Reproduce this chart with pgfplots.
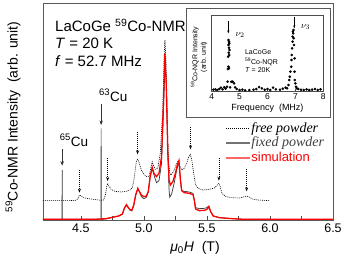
\documentclass[border=0pt]{standalone}
\usepackage{pgfplots}
\pgfplotsset{compat=1.18}
\usepackage{fontspec}
\setmainfont{Liberation Sans}
\newfontfamily\tnr{Liberation Serif}
\usetikzlibrary{arrows.meta}
\begin{document}
\begin{tikzpicture}
\useasboundingbox (-43pt,-45pt) rectangle (303pt,220pt);
\begin{axis}[at={(0pt,0pt)}, anchor=south west, scale only axis,
  width=290pt, height=217pt,
  xmin=4.2, xmax=6.5, ymin=0, ymax=651,
  ytick=\empty,
  xtick={4.5,5,5.5,6,6.5}, xticklabels={4.5,5.0,5.5,6.0,6.5},
  minor xtick={4.75,5.25,5.75,6.25},
  xtick pos=lower, tick align=inside,
  major tick length=4pt, minor tick length=4pt,
  tick style={black!70, line width=0.6pt},
  axis line style={black!65, line width=0.6pt},
  xticklabel style={font=\fontsize{12.5}{14}\selectfont},
  legend cell align=left,
  legend style={at={(0.617,0.463)}, anchor=north west, draw=none, fill=none,
    nodes={inner sep=0.5pt, text height=10pt, text depth=3pt}, row sep=0.5pt},
  legend image code/.code={\draw[#1] (0pt,0pt) -- (24pt,0pt);},
]
\addlegendimage{black, dash pattern=on 1pt off 1pt, line width=0.6pt}
\addlegendentry{\fontsize{14}{16}\selectfont\tnr\itshape free powder}
\addlegendimage{black!55, line width=1.8pt}
\addlegendentry{\fontsize{14}{16}\selectfont\tnr\itshape\color{black!75}fixed powder}
\addlegendimage{red!60, line width=1.8pt}
\addlegendentry{\fontsize{13}{16}\selectfont\color{red}simulation}
% free powder
\addplot[forget plot, black, dash pattern=on 1pt off 1pt, line width=0.6pt] coordinates {
(4.20,58) (4.40,58) (4.46,59) (4.475,63) (4.485,72) (4.49,75) (4.50,72) (4.52,67)
(4.56,64) (4.62,61) (4.66,59) (4.68,60) (4.695,75) (4.705,100) (4.713,110) (4.72,104)
(4.74,92) (4.77,86) (4.82,84) (4.86,86) (4.89,90) (4.91,98) (4.925,130) (4.94,175)
(4.95,182) (4.96,175) (4.98,150) (5.00,138) (5.02,130) (5.04,130) (5.055,155) (5.066,175)
(5.075,165) (5.09,152) (5.11,155) (5.13,200) (5.15,330) (5.16,480) (5.167,540) (5.175,480)
(5.185,300) (5.195,180) (5.205,140) (5.215,135) (5.235,145) (5.255,165) (5.268,175) (5.28,165)
(5.30,150) (5.32,155) (5.34,170) (5.355,190) (5.368,197) (5.38,180) (5.395,140) (5.41,105)
(5.43,95) (5.47,90) (5.52,92) (5.56,96) (5.58,104) (5.595,110) (5.605,100) (5.62,80)
(5.65,70) (5.70,67) (5.76,66) (5.80,70) (5.815,72) (5.83,70) (5.86,63) (5.90,60) (6.00,58)
};
% fixed powder
\addplot[forget plot, black!80, line width=0.7pt] coordinates {
(4.20,2) (4.351,2) (4.352,150) (4.353,2) (4.660,2) (4.661,275) (4.662,2)
(4.70,3) (4.75,8) (4.80,12) (4.83,18) (4.845,35) (4.862,45) (4.875,38) (4.89,30)
(4.905,27) (4.92,45) (4.935,75) (4.952,93) (4.965,85) (4.98,70) (5.00,64) (5.02,68)
(5.035,85) (5.05,130) (5.066,155) (5.08,135) (5.10,112) (5.12,118) (5.14,170) (5.155,320)
(5.168,470) (5.178,420) (5.19,200) (5.20,90) (5.205,68) (5.22,78) (5.24,110) (5.26,150)
(5.278,175) (5.29,120) (5.30,88) (5.32,86) (5.36,84) (5.39,80) (5.40,60) (5.41,37)
(5.44,34) (5.48,35) (5.50,37) (5.515,42) (5.53,25) (5.55,12) (5.60,7) (5.70,4)
(5.80,2) (6.00,2)
};
% simulation
\addplot[forget plot, red, line width=1.3pt] coordinates {
(4.20,2) (4.60,2) (4.70,4) (4.75,8) (4.80,12) (4.83,18) (4.845,35) (4.862,46)
(4.875,38) (4.89,31) (4.905,30) (4.92,45) (4.935,75) (4.952,95) (4.965,85) (4.98,75)
(5.00,70) (5.02,72) (5.035,85) (5.05,130) (5.066,158) (5.08,140) (5.10,130) (5.12,140)
(5.14,190) (5.155,350) (5.167,500) (5.178,400) (5.19,200) (5.20,120) (5.21,105) (5.23,115)
(5.25,140) (5.265,165) (5.278,178) (5.29,120) (5.30,88) (5.32,82) (5.36,80) (5.39,76)
(5.40,60) (5.41,33) (5.44,28) (5.48,29) (5.50,32) (5.515,40) (5.53,25) (5.55,12)
(5.60,7) (5.70,4) (5.80,2) (6.50,2)
};
% dotted arrows
\foreach \xx/\ya/\yb in {4.489/150/82, 4.713/185/117, 4.95/265/197, 5.37/280/212, 5.595/185/118, 5.815/152/86}{
  \edef\tmp{\noexpand\draw[black, dash pattern=on 1pt off 1pt, line width=0.6pt, -{Stealth[length=4pt,width=3pt]}] (axis cs:\xx,\ya) -- (axis cs:\xx,\yb);}
  \tmp
}
% Cu arrows
\draw[black!80, line width=0.6pt, -{Stealth[length=4.5pt,width=3.5pt]}] (axis cs:4.352,212) -- (axis cs:4.352,163);
\draw[black!80, line width=0.6pt, -{Stealth[length=4.5pt,width=3.5pt]}] (axis cs:4.661,348) -- (axis cs:4.661,285);
\node[anchor=base west, inner sep=0pt, font=\fontsize{13.5}{15}\selectfont] at (axis cs:4.333,222) {\textsuperscript{65}Cu};
\node[anchor=base west, inner sep=0pt, font=\fontsize{13.5}{15}\selectfont] at (axis cs:4.643,357) {\textsuperscript{63}Cu};
\end{axis}
% labels
\node[rotate=90, font=\fontsize{14}{16}\selectfont] at (-30pt,103pt) {\textsuperscript{59}Co-NMR Intensity~ (arb. unit)};
\node[font=\fontsize{14}{16}\selectfont] at (152pt,-28pt) {\textit{μ}\textsubscript{0}\textit{H}~ (T)};
\node[anchor=base west, inner sep=0pt, font=\fontsize{15}{17}\selectfont] at (12pt,188.3pt) {LaCoGe \textsuperscript{59}Co-NMR};
\node[anchor=base west, inner sep=0pt, font=\fontsize{15}{17}\selectfont] at (12pt,171.7pt) {\textit{T} = 20 K};
\node[anchor=base west, inner sep=0pt, font=\fontsize{15}{17}\selectfont] at (12pt,153.3pt) {\textit{f} = 52.7 MHz};
% inset frame
\draw[black!65, line width=0.6pt, fill=white] (143pt,103pt) rectangle (287pt,212pt);
\begin{axis}[at={(168.7pt,128.3pt)}, anchor=south west, scale only axis,
  width=111.6pt, height=76.7pt,
  xmin=4, xmax=8, ymin=0, ymax=230,
  ytick=\empty, xtick={4,5,6,7,8}, xticklabels={4,5,6,7,8},
  xtick pos=lower, tick align=inside, major tick length=2.5pt,
  tick style={black!70, line width=0.5pt},
  axis line style={black!70, line width=0.5pt},
  xticklabel style={font=\fontsize{8.5}{9}\selectfont, inner sep=1.5pt},
]
\addplot[only marks, mark=*, mark size=1.1pt, black] coordinates {
(4.06,6) (4.13,7) (4.2,5) (4.27,8) (4.33,12) (4.39,7) (4.45,13) (4.5,9)
(4.55,15) (4.57,30) (4.58,68) (4.6,75) (4.62,70) (4.6,155) (4.62,150) (4.63,145)
(4.6,140) (4.62,132) (4.64,125) (4.61,117) (4.63,110) (4.59,105) (4.66,13) (4.7,30)
(4.75,30) (4.8,25) (4.84,13) (4.9,8) (5.0,5) (5.1,6) (5.2,4) (5.35,5) (5.5,6)
(5.6,8) (5.7,14) (5.8,10) (5.9,6) (6.0,8) (6.1,5) (6.2,12) (6.3,7) (6.45,6)
(6.55,9) (6.65,12) (6.7,10) (6.75,20) (6.78,35) (6.8,45) (6.82,60) (6.85,75)
(6.86,95) (6.87,110) (6.88,130) (6.9,150) (6.9,165) (6.92,175) (6.93,185) (6.91,180)
(6.94,160) (6.95,140) (6.97,100) (6.97,60) (6.98,35) (7.0,25) (7.02,15) (7.05,10)
(7.1,8) (7.2,6) (7.3,5) (7.4,7) (7.5,5) (7.6,6) (7.7,8) (7.8,5) (7.9,7)
};
\draw[black, line width=0.5pt, -{Stealth[length=3pt,width=2.2pt]}] (axis cs:4.595,213) -- (axis cs:4.595,175);
\draw[black, line width=0.5pt, -{Stealth[length=3pt,width=2.2pt]}] (axis cs:6.96,225) -- (axis cs:6.96,190);
\node[anchor=base west, inner sep=0pt, font=\fontsize{9.5}{10}\selectfont] at (axis cs:4.85,166) {$\nu_2$};
\node[anchor=base west, inner sep=0pt, font=\fontsize{9.5}{10}\selectfont] at (axis cs:7.2,190) {$\nu_3$};
\node[anchor=base west, inner sep=0pt, font=\fontsize{7}{8}\selectfont] at (axis cs:5.19,113) {LaCoGe};
\node[anchor=base west, inner sep=0pt, font=\fontsize{7}{8}\selectfont] at (axis cs:5.19,83) {\textsuperscript{59}Co-NQR};
\node[anchor=base west, inner sep=0pt, font=\fontsize{7}{8}\selectfont] at (axis cs:5.19,57) {\textit{T} = 20K};
\end{axis}
\node[font=\fontsize{9}{10}\selectfont] at (224.5pt,111.7pt) {Frequency~ (MHz)};
\node[rotate=90, align=center, font=\fontsize{7}{8.5}\selectfont] at (156pt,163pt) {\textsuperscript{59}Co-NQR Intensity\\(arb. unit)};
\end{tikzpicture}
\end{document}
